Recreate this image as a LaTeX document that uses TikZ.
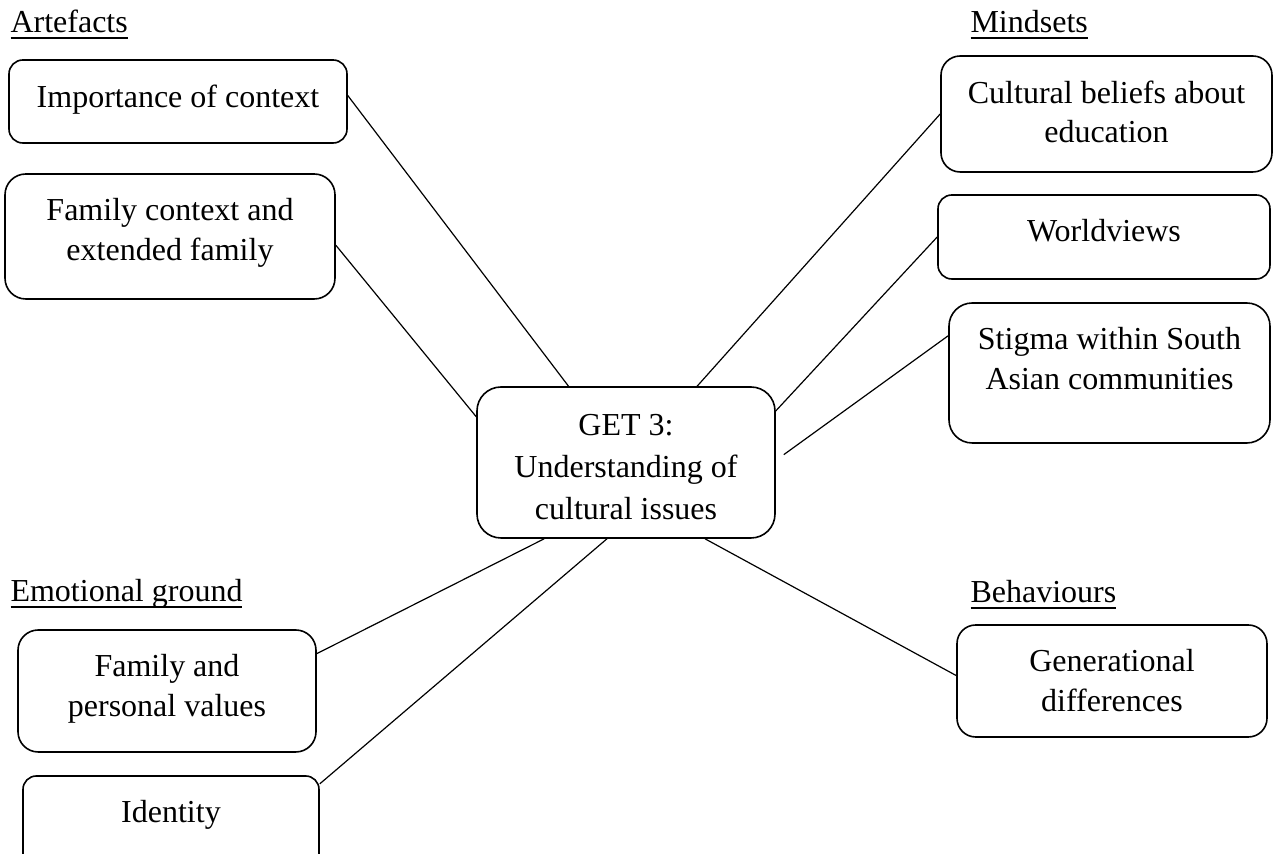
\documentclass[tikz,border=0pt]{standalone}
\usepackage{fontspec}
\setmainfont{Liberation Serif}
\usepackage{tikz}
\usetikzlibrary{positioning, calc, fit}
\newcommand{\hdline}[1]{\setbox0\hbox{#1}\rlap{\rule[-2.3pt]{\wd0}{0.7pt}}\box0}
\tikzset{
	themebox/.style={rectangle, rounded corners=7pt, draw=black, line width=0.6pt, inner sep=0pt},
	boxtext/.style ={anchor=north, yshift=-9.3pt, align=center, inner sep=0pt, font=\fontsize{12}{14.8}\selectfont},
	heading/.style ={anchor=base west, inner sep=0pt, font=\fontsize{12}{13.8}\selectfont},
	link/.style    ={draw=black, line width=0.45pt},
}
\begin{document}
\begin{tikzpicture}[x=0.375pt, y=-0.375pt]
	\useasboundingbox (0,0) rectangle (1277,854);
	% headings
	\node[heading] (hArt) at (10,33) {\hdline{Artefacts}};
	\node[heading] (hMind) at (970,33) {\hdline{Mindsets}};
	\node[heading] (hEmo) at (10,602) {\hdline{Emotional ground}};
	\node[heading] (hBeh) at (970,603) {\hdline{Behaviours}};
	% central theme
	\node[themebox, rounded corners=9pt, fit={(477,387) (775,538)}] (cent) {};
	\node[boxtext, yshift=-1.2pt, font=\fontsize{12}{15.75}\selectfont] (centT) at (cent.north) {GET 3:\\Understanding of\\cultural issues};
	% artefacts
	\node[themebox, rounded corners=5.2pt, fit={(9,60) (347,143)}] (imp) {};
	\node[boxtext] (impT) at (imp.north) {Importance of context};
	\node[themebox, rounded corners=7.8pt, fit={(5,174) (335,299)}] (fam) {};
	\node[boxtext] (famT) at (fam.north) {Family context and\\extended family};
	% mindsets
	\node[themebox, rounded corners=7.2pt, fit={(941,56) (1272,172)}] (cult) {};
	\node[boxtext] (cultT) at (cult.north) {Cultural beliefs about\\education};
	\node[themebox, rounded corners=5.2pt, fit={(938,195) (1270,279)}] (world) {};
	\node[boxtext] (worldT) at (world.north) {Worldviews};
	\node[themebox, rounded corners=8.7pt, fit={(949,303) (1270,443)}] (stig) {};
	\node[boxtext] (stigT) at (stig.north) {Stigma within South\\Asian communities};
	% emotional ground
	\node[themebox, rounded corners=7.6pt, fit={(18,630) (316,752)}] (famval) {};
	\node[boxtext] (famvalT) at (famval.north) {Family and\\personal values};
	\node[themebox, rounded corners=5pt, fit={(23,776) (319,900)}] (ident) {};
	\node[boxtext] (identT) at (ident.north) {Identity};
	% behaviours
	\node[themebox, rounded corners=7pt, fit={(957,625) (1267,737)}] (gen) {};
	\node[boxtext] (genT) at (gen.north) {Generational\\differences};
	% connectors
	\draw[link] (imp.2) -- (cent.127);
	\draw[link] (fam.-3) -- (cent.163);
	\draw[link] (cult.west) -- (cent.47);
	\draw[link] (world.west) -- (cent.19);
	\draw[link] (stig.167) -- ($(cent.3)+(8,0)$);
	\draw[link] (gen.178) -- (cent.-44);
	\draw[link] (famval.14) -- (cent.223);
	\draw[link] (ident.20) -- (cent.256);
\end{tikzpicture}
\end{document}
